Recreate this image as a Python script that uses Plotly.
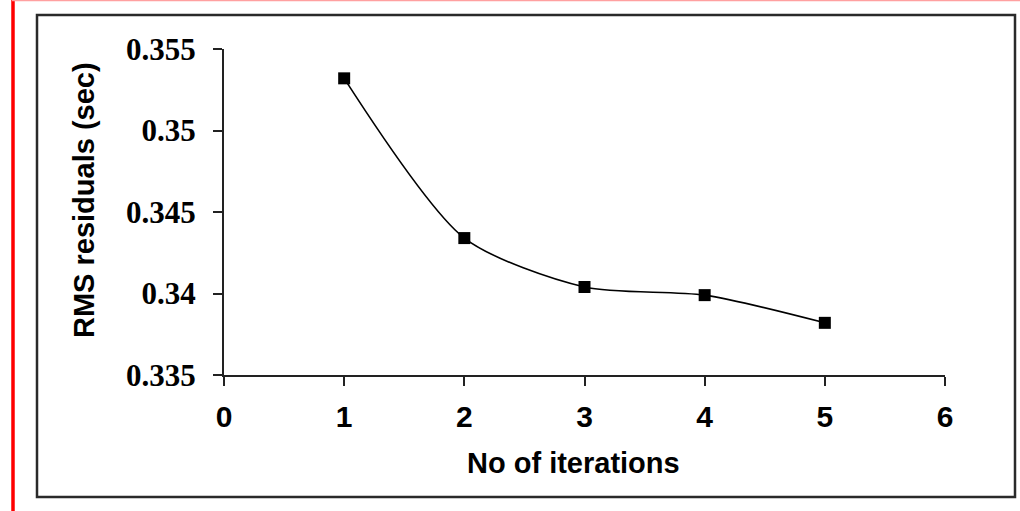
import plotly.graph_objects as go

# RMS residuals after each iteration
iterations = [1, 2, 3, 4, 5]
rms_residuals = [0.3532, 0.3434, 0.3404, 0.3399, 0.3382]

x_tick_values = [0, 1, 2, 3, 4, 5, 6]
y_tick_values = [0.335, 0.34, 0.345, 0.35, 0.355]
y_tick_labels = ["0.335", "0.34", "0.345", "0.35", "0.355"]

W, H = 1020, 511
L, R, T, B = 224, 75, 49, 136
PW, PH = W - L - R, H - T - B


def px_x(x):
    return (x - L) / PW


def px_y(y):
    return (H - B - y) / PH


fig = go.Figure()
fig.add_trace(go.Scatter(
    x=iterations,
    y=rms_residuals,
    mode="lines+markers",
    line=dict(color="#000000", width=1.6, shape="spline", smoothing=0.75),
    marker=dict(symbol="square", size=12, color="#000000"),
    showlegend=False,
))

axis_common = dict(
    showline=True, linewidth=2, linecolor="#222222",
    ticks="outside", ticklen=9, tickwidth=2, tickcolor="#222222",
    showgrid=False, zeroline=False,
)

fig.update_xaxes(
    range=[0, 6], tickvals=x_tick_values,
    tickfont=dict(family="Liberation Sans", size=30, color="#000000", weight="bold"),
    ticklabelstandoff=5,
    **axis_common,
)
fig.update_yaxes(
    range=[0.335, 0.355], tickvals=y_tick_values, ticktext=y_tick_labels,
    tickfont=dict(family="Liberation Serif", size=31, color="#000000", weight="bold"),
    ticklabelstandoff=11,
    **axis_common,
)

title_font = dict(family="Liberation Sans", size=29, color="#000000", weight="bold")
fig.add_annotation(
    text="No of iterations", xref="paper", yref="paper",
    x=px_x(573), y=px_y(463), xanchor="center", yanchor="middle",
    showarrow=False, font=title_font,
)
fig.add_annotation(
    text="RMS residuals (sec)", xref="paper", yref="paper",
    x=px_x(84), y=px_y(200), xanchor="center", yanchor="middle",
    textangle=-90, showarrow=False, font=title_font,
)

# Page decoration: outer chart frame, red left rule and pale top rule
fig.add_shape(type="rect", xref="paper", yref="paper",
              x0=px_x(37), x1=px_x(1015), y0=px_y(497), y1=px_y(15),
              line=dict(color="#2a2a2a", width=2.5), layer="below")
fig.add_shape(type="line", xref="paper", yref="paper",
              x0=px_x(13), x1=px_x(13), y0=px_y(0), y1=px_y(H),
              line=dict(color="#ff0000", width=3.5))
fig.add_shape(type="line", xref="paper", yref="paper",
              x0=px_x(12), x1=px_x(W), y0=px_y(0.5), y1=px_y(0.5),
              line=dict(color="#ffa0a0", width=1.5))

fig.update_layout(
    width=W, height=H,
    margin=dict(l=L, r=R, t=T, b=B),
    paper_bgcolor="#ffffff", plot_bgcolor="#ffffff",
)

fig.write_html("out.html")
